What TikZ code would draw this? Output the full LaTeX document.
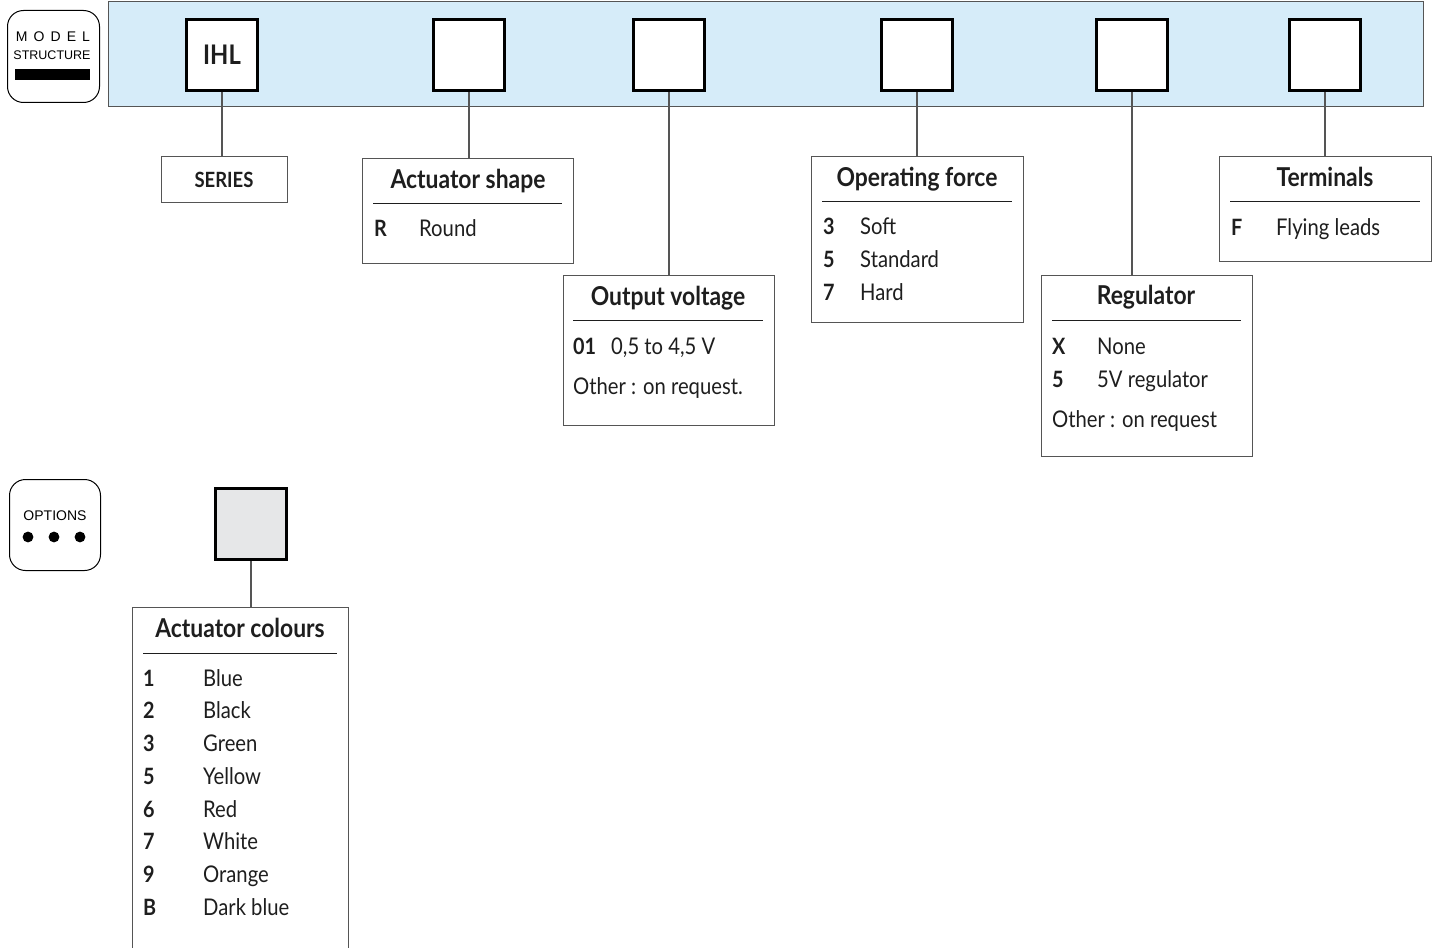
\documentclass[tikz,border=0pt]{standalone}
\usepackage{fontspec}
\setmainfont{Lato}[FakeStretch=0.88]
\newfontfamily\helv{Liberation Sans}
\definecolor{bandblue}{RGB}{214,236,249}
\definecolor{edgegray}{RGB}{85,85,85}
\definecolor{optfill}{RGB}{230,231,232}
\definecolor{txt}{RGB}{30,30,30}
\newcommand{\ttlfont}{\fontsize{26}{30}\selectfont\bfseries}
\newcommand{\itmfont}{\fontsize{23}{26}\selectfont}
\newcommand{\cdfont}{\fontsize{22.5}{26}\selectfont\bfseries}
\tikzset{
  badge/.style={draw=black, line width=1pt, rounded corners=16pt, fill=white, anchor=north west, inner sep=0},
  badgetxt/.style={font=\helv\fontsize{12.5}{14}\selectfont, inner sep=0},
  codebox/.style={draw=black, line width=3pt, fill=white, minimum size=71pt, inner sep=0, font=\fontsize{27}{30}\selectfont\bfseries, text=txt},
  optbox/.style={draw=edgegray, line width=1.2pt, fill=white, anchor=north west, inner sep=0},
  conn/.style={draw=edgegray, line width=1.3pt},
  rulel/.style={draw=txt, line width=1pt},
  ttl/.style={font=\ttlfont, anchor=base, inner sep=0, text=txt},
  cd/.style={font=\cdfont, anchor=base west, inner sep=0, text=txt},
  itm/.style={font=\itmfont, anchor=base west, inner sep=0, text=txt},
}
\begin{document}
\begin{tikzpicture}[x=1pt,y=-1pt]
\clip (0,0) rectangle (1439,947);
\fill[white] (0,0) rectangle (1439,947);

% badges
\node[badge, minimum width=92pt, minimum height=92pt] (ms) at (7,10) {};
\node[badgetxt, font=\helv\fontsize{14}{15}\selectfont] (msa) at (53,37) {\makebox[74pt]{M\hfill O\hfill D\hfill E\hfill L}};
\node[badgetxt] (msb) at (52,55) {STRUCTURE};
\fill[black] (15,69) rectangle (90,80);

\node[badge, minimum width=91pt, minimum height=91pt] (opt) at (9,479) {};
\node[badgetxt, font=\helv\fontsize{14}{15}\selectfont] (optt) at (55,516) {OPTIONS};
\foreach \x in {28,54,80} \fill[black] (\x,537) circle (5.4);

% band
\draw[draw=edgegray, line width=1pt, fill=bandblue] (108,2) rectangle (1423,107);

% code boxes
\node[codebox] (c1) at (222,55) {IHL};
\node[codebox] (c2) at (469,55) {};
\node[codebox] (c3) at (669,55) {};
\node[codebox] (c4) at (917,55) {};
\node[codebox] (c5) at (1132,55) {};
\node[codebox] (c6) at (1325,55) {};
\node[codebox, fill=optfill] (o1) at (251,524) {};

% option boxes
\node[optbox, minimum width=126pt, minimum height=46pt] (series) at (161,156) {};
\node[optbox, minimum width=211pt, minimum height=105pt] (shape) at (362,158) {};
\node[optbox, minimum width=211pt, minimum height=150pt] (volt) at (563,275) {};
\node[optbox, minimum width=212pt, minimum height=166pt] (force) at (811,156) {};
\node[optbox, minimum width=211pt, minimum height=181pt] (reg) at (1041,275) {};
\node[optbox, minimum width=212pt, minimum height=105pt] (term) at (1219,156) {};
\node[optbox, minimum width=216pt, minimum height=360pt] (col) at (132,607) {};

% connectors
\draw[conn] (c1.south) -- (c1.south |- series.north);
\draw[conn] (c2.south) -- (c2.south |- shape.north);
\draw[conn] (c3.south) -- (c3.south |- volt.north);
\draw[conn] (c4.south) -- (c4.south |- force.north);
\draw[conn] (c5.south) -- (c5.south |- reg.north);
\draw[conn] (c6.south) -- (c6.south |- term.north);
\draw[conn] (o1.south) -- (o1.south |- col.north);

% SERIES
\node[ttl, font=\fontsize{21}{24}\selectfont\bfseries] (tser) at (224,187) {SERIES};

% Actuator shape
\node[ttl] (tshape) at (468,188) {Actuator shape};
\draw[rulel] (373,203) -- (562,203);
\node[cd] (shR) at (374,236) {R};
\node[itm] (shRt) at (419,236) {Round};

% Output voltage
\node[ttl] (tvolt) at (668,305) {Output voltage};
\draw[rulel] (573,320) -- (763,320);
\node[cd] (v01) at (573,354) {01};
\node[itm] (v01t) at (611,354) {0,5 to 4,5 V};
\node[itm] (voth) at (573,394) {Other : on request.};

% Operating force
\node[ttl] (tforce) at (917,186) {Operating force};
\draw[rulel] (822,201) -- (1012,201);
\node[cd] (f3) at (823,234) {3};
\node[itm] (f3t) at (860,234) {Soft};
\node[cd] (f5) at (823,267) {5};
\node[itm] (f5t) at (860,267) {Standard};
\node[cd] (f7) at (823,300) {7};
\node[itm] (f7t) at (860,300) {Hard};

% Regulator
\node[ttl] (treg) at (1146,304) {Regulator};
\draw[rulel] (1052,320) -- (1241,320);
\node[cd] (rX) at (1052,354) {X};
\node[itm] (rXt) at (1097,354) {None};
\node[cd] (r5) at (1052,387) {5};
\node[itm] (r5t) at (1097,387) {5V regulator};
\node[itm] (roth) at (1052,427) {Other : on request};

% Terminals
\node[ttl] (tterm) at (1325,186) {Terminals};
\draw[rulel] (1230,201) -- (1420,201);
\node[cd] (tF) at (1231,235) {F};
\node[itm] (tFt) at (1276,235) {Flying leads};

% Actuator colours
\node[ttl] (tcol) at (240,637) {Actuator colours};
\draw[rulel] (143,653) -- (337,653);
\foreach \c/\n/\y [count=\i] in {1/Blue/686, 2/Black/718, 3/Green/751, 5/Yellow/784, 6/Red/817, 7/White/849, 9/Orange/882, B/Dark blue/915}{
  \node[cd] (cc\i) at (143,\y) {\c};
  \node[itm] (cn\i) at (203,\y) {\n};
}
\end{tikzpicture}
\end{document}
